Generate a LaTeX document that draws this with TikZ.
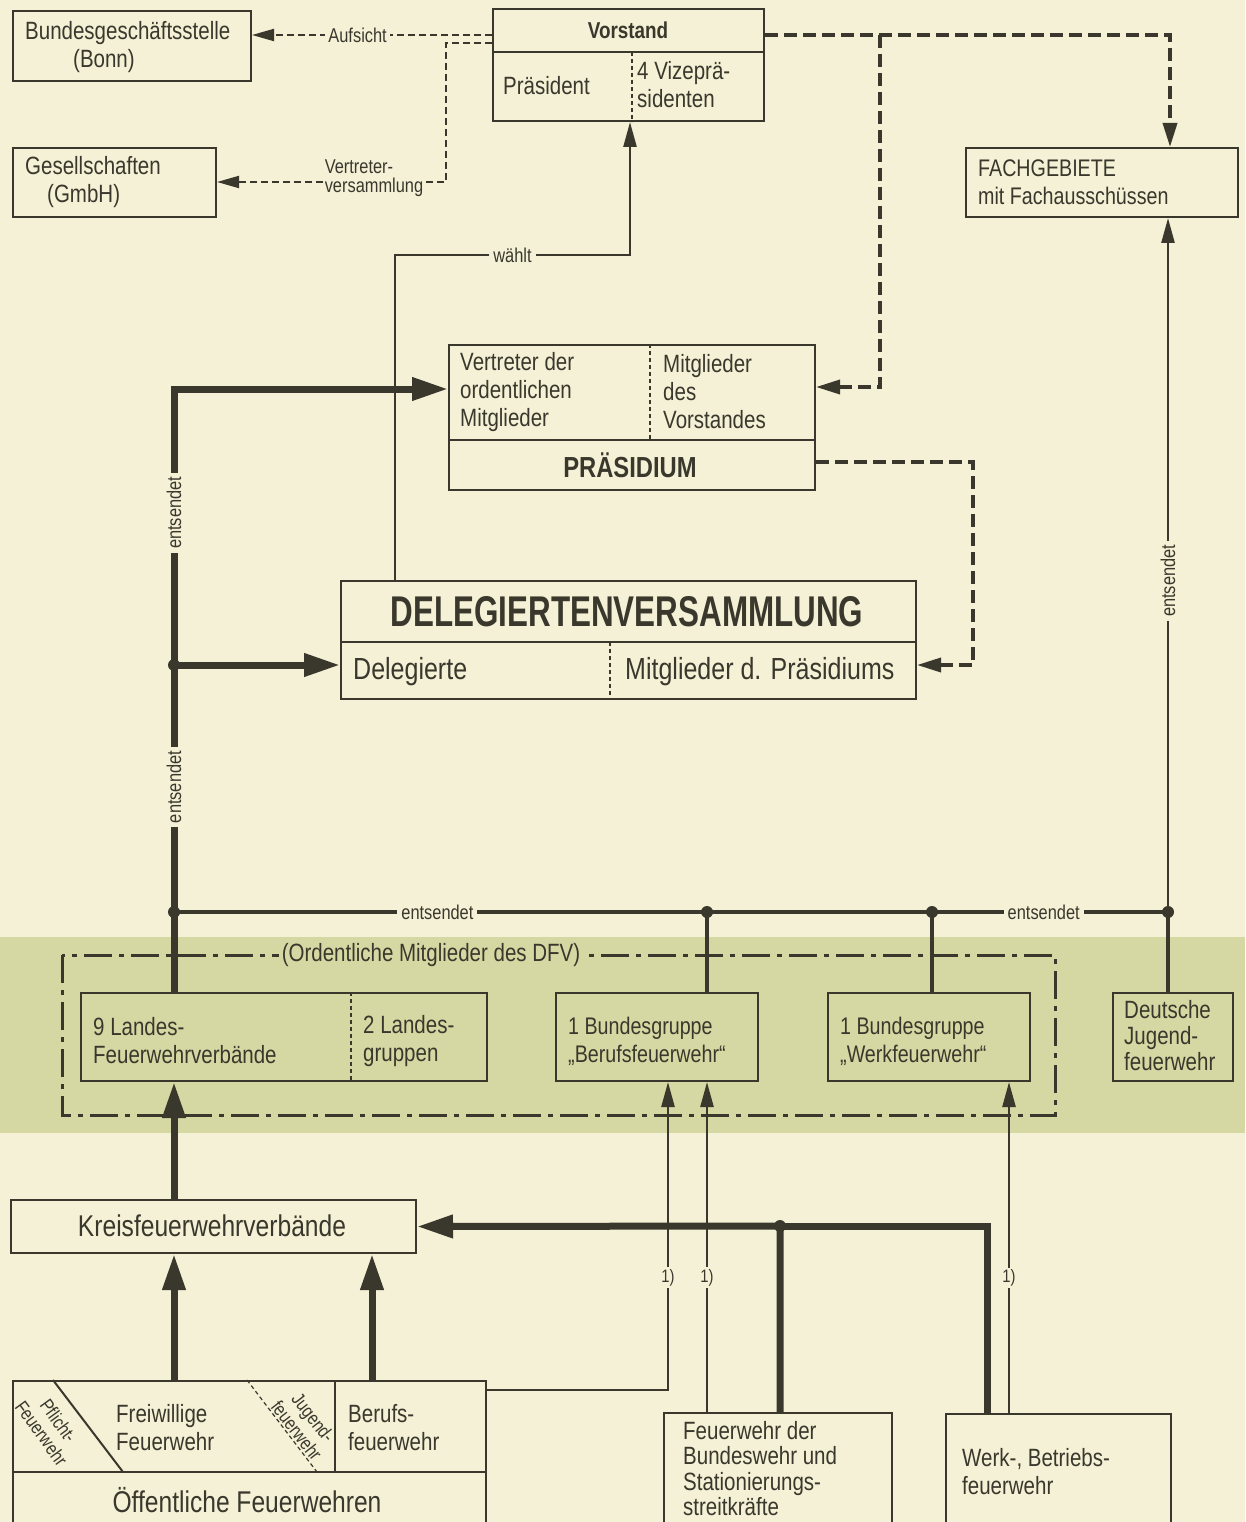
\documentclass[tikz,border=0pt]{standalone}
\usepackage{fontspec}
\setmainfont{Liberation Sans}[FakeStretch=0.82]
\newfontfamily\hdfont{Liberation Sans}[FakeStretch=0.73]
\usetikzlibrary{arrows.meta}
\definecolor{bg}{RGB}{244,241,214}
\definecolor{band}{RGB}{214,216,163}
\definecolor{ink}{RGB}{58,56,44}
\tikzset{
 box/.style={draw=ink, line width=2pt, inner sep=0pt, anchor=north west},
 txt/.style={text=ink, inner sep=0pt, align=left, font=\fontsize{25}{28}\selectfont},
 lbl/.style={text=ink, fill=bg, inner sep=4pt, font=\fontsize{20}{22}\selectfont},
 thk/.style={draw=ink, line width=7pt},
 thkarr/.style={thk, -{Triangle[length=36pt,width=22pt]}},
 med/.style={draw=ink, line width=4pt},
 thn/.style={draw=ink, line width=2.5pt},
 thnarr/.style={thn, -{Triangle[length=25pt,width=13pt]}},
 dsh/.style={draw=ink, line width=2pt, dash pattern=on 7pt off 4pt},
 dsharr/.style={dsh, -{Triangle[length=22pt,width=12pt]}},
 dshB/.style={draw=ink, line width=3.5pt, dash pattern=on 13pt off 6pt},
 dshBarr/.style={dshB, -{Triangle[length=24pt,width=14pt]}},
 divd/.style={draw=ink, line width=1.2pt, dash pattern=on 4pt off 3pt},
 inl/.style={draw=ink, line width=2pt},
 jdot/.style={circle, fill=ink, inner sep=0pt, minimum size=12pt},
}
\begin{document}
\begin{tikzpicture}[x=1pt,y=-1pt]
\fill[bg] (0,0) rectangle (1245,1522);
\fill[band] (0,937) rectangle (1245,1133);
\useasboundingbox (0,0) rectangle (1245,1522);
\clip (0,0) rectangle (1245,1522);

% ---------- boxes ----------
\node[box, minimum width=238pt, minimum height=70pt] (bgs) at (12,10) {};
\node[txt, anchor=west] (bgsT) at (25,47) {Bundesgeschäftsstelle\\\hspace*{48pt}(Bonn)};

\node[box, minimum width=203pt, minimum height=69pt] (ges) at (12,147) {};
\node[txt, anchor=west] (gesT) at (25,182) {Gesellschaften\\\hspace*{22pt}(GmbH)};

\node[box, minimum width=271pt, minimum height=112pt] (vor) at (492,8) {};
\draw[inl] (vor.west |- 0,52) -- (vor.east |- 0,52);
\draw[divd] (632,52) -- (vor.south -| 632,0);
\node[txt, font=\bfseries\fontsize{23}{26}\selectfont] (vorT) at (628,30) {Vorstand};
\node[txt, anchor=west] (praes) at (503,86) {Präsident};
\node[txt, anchor=west] (vize) at (637,85) {4 Vizeprä-\\sidenten};

\node[box, minimum width=272pt, minimum height=69pt] (fach) at (965,147) {};
\node[txt, anchor=west, font=\fontsize{24}{28}\selectfont] (fachT) at (978,182) {FACHGEBIETE\\mit Fachausschüssen};

\node[box, minimum width=366pt, minimum height=145pt] (pra) at (448,344) {};
\draw[inl] (pra.west |- 0,440) -- (pra.east |- 0,440);
\draw[divd] (pra.north -| 650,0) -- (650,440);
\node[txt, anchor=west] (praL) at (460,392) {Vertreter der\\ordentlichen\\Mitglieder};
\node[txt, anchor=west] (praR) at (663,392) {Mitglieder\\des\\Vorstandes};
\node[txt, font=\bfseries\fontsize{29}{32}\selectfont] (praT) at (630,465) {PRÄSIDIUM};

\node[box, minimum width=575pt, minimum height=118pt] (del) at (340,580) {};
\draw[inl] (del.west |- 0,642) -- (del.east |- 0,642);
\draw[divd] (610,642) -- (del.south -| 610,0);
\node[text=ink, inner sep=0pt, font=\hdfont\bfseries\fontsize{43}{46}\selectfont] (delT) at (627,612) {DELEGIERTENVERSAMMLUNG};
\node[txt, anchor=west, font=\fontsize{30.5}{33}\selectfont] (delL) at (353,672) {Delegierte};
\node[txt, anchor=west, font=\fontsize{30.5}{33}\selectfont] (delR) at (625,672) {Mitglieder d. Präsidiums};

% band
\draw[ink, line width=3pt, dash pattern=on 28pt off 7pt on 5pt off 7pt] (62,955) rectangle (1055,1115);
\node[lbl, fill=band, inner sep=3pt, font=\fontsize{25}{28}\selectfont] (ordl) at (431,955) {(Ordentliche Mitglieder des DFV)};

\node[box, minimum width=406pt, minimum height=88pt] (lan) at (80,992) {};
\draw[divd] (lan.north -| 351,0) -- (lan.south -| 351,0);
\node[txt, anchor=west] (lanL) at (93,1041) {9 Landes-\\Feuerwehrverbände};
\node[txt, anchor=west] (lanR) at (363,1041) {2 Landes-\\gruppen};

\node[box, minimum width=202pt, minimum height=88pt] (bbg) at (555,992) {};
\node[txt, anchor=west, font=\fontsize{24}{28}\selectfont] (bbgT) at (568,1041) {1 Bundesgruppe\\„Berufsfeuerwehr“};

\node[box, minimum width=202pt, minimum height=88pt] (wbg) at (827,992) {};
\node[txt, anchor=west, font=\fontsize{24}{28}\selectfont] (wbgT) at (840,1041) {1 Bundesgruppe\\„Werkfeuerwehr“};

\node[box, minimum width=120pt, minimum height=88pt] (djf) at (1112,992) {};
\node[txt, anchor=west, font=\fontsize{25}{26}\selectfont] (djfT) at (1124,1036) {Deutsche\\Jugend-\\feuerwehr};

\node[box, minimum width=405pt, minimum height=53pt] (kre) at (10,1199) {};
\node[txt, font=\fontsize{30}{33}\selectfont] (kreT) at (212,1226) {Kreisfeuerwehrverbände};

\node[box, minimum width=473pt, minimum height=170pt] (oef) at (12,1380) {};
\draw[inl] (oef.west |- 0,1472) -- (oef.east |- 0,1472);
\draw[inl] (oef.north -| 335,0) -- (335,1472);
\draw[inl] (oef.north -| 53,0) -- (123,1472);
\draw[divd] (oef.north -| 247,0) -- (317,1472);
\node[txt, anchor=west] (fwT) at (116,1428) {Freiwillige\\Feuerwehr};
\node[txt, anchor=west] (bfT) at (348,1428) {Berufs-\\feuerwehr};
\node[txt, font=\fontsize{30}{33}\selectfont] (oefT) at (247,1500) {Öffentliche Feuerwehren};
\node[txt, align=center, rotate=-54, font=\fontsize{19}{21}\selectfont] (pfT) at (50,1427) {Pflicht-\\Feuerwehr};
\node[txt, align=center, rotate=-52, font=\fontsize{19}{21}\selectfont] (jfT) at (305,1424) {Jugend-\\feuerwehr};

\node[box, minimum width=228pt, minimum height=140pt] (bw) at (663,1412) {};
\node[txt, anchor=north west, font=\fontsize{25}{25.5}\selectfont] (bwT) at (683,1421) {Feuerwehr der\\Bundeswehr und\\Stationierungs-\\streitkräfte};

\node[box, minimum width=225pt, minimum height=140pt] (wb) at (945,1413) {};
\node[txt, anchor=west] (wbT) at (962,1472) {Werk-, Betriebs-\\feuerwehr};

% ---------- connectors ----------
\draw[dsharr] (vor.west |- 0,35) -- node[lbl, inner sep=3pt, pos=0.56] (lAuf) {Aufsicht} (bgs.east |- 0,35);
\draw[dsharr] (vor.west |- 0,43) -- (446,43) -- (446,182) -- (ges.east |- 0,182);
\node[lbl, align=left, inner sep=2pt, font=\fontsize{20}{19}\selectfont] (lVer) at (374,178) {Vertreter-\\versammlung};

\draw[dshBarr] (vor.east |- 0,35) -- (1170,35) -- (fach.north -| 1170,0);
\draw[dshBarr] (880,35) -- (880,387) -- (pra.east |- 0,387);
\draw[dshBarr] (pra.east |- 0,462) -- (973,462) -- (973,665) -- (del.east |- 0,665);

\draw[thnarr] (del.north -| 395,0) -- (395,255) -- node[lbl] (lWa) {wählt} (630,255) -- (vor.south -| 630,0);

\draw[thkarr] (174,912) -- node[lbl, rotate=90, pos=0.239] (lE1) {entsendet} node[lbl, rotate=90, pos=0.763] (lE2) {entsendet} (174,389) -- (pra.west |- 0,389);
\draw[thkarr] (174,665) -- (del.west |- 0,665);
\draw[thk] (174,912) -- (lan.north -| 174,0);

\draw[med] (174,912) -- node[lbl, pos=0.265] (lE3) {entsendet} node[lbl, pos=0.875] (lE4) {entsendet} (1168,912);
\draw[med] (707,912) -- (bbg.north -| 707,0);
\draw[med] (932,912) -- (wbg.north -| 932,0);
\draw[med] (1168,912) -- (djf.north -| 1168,0);
\draw[thnarr] (1168,912) -- node[lbl, rotate=90, pos=0.477] (lE5) {entsendet} (fach.south -| 1168,0);

\node[jdot] (j1) at (174,665) {};
\node[jdot] (j2) at (174,912) {};
\node[jdot] (j3) at (707,912) {};
\node[jdot] (j4) at (932,912) {};
\node[jdot] (j5) at (1168,912) {};

\draw[thkarr] (kre.north -| 174,0) -- (lan.south -| 174,0);
\draw[thkarr] (oef.north -| 174,0) -- (kre.south -| 174,0);
\draw[thkarr] (oef.north -| 372,0) -- (kre.south -| 372,0);
\draw[thkarr] (bw.north -| 780,0) -- (780,1226) -- (kre.east);
\draw[thk] (wb.north -| 987,0) -- (987,1226) -- (780,1226);
\node[jdot] (j6) at (780,1226) {};

\draw[thnarr] (oef.east |- 0,1390) -- (668,1390) -- node[lbl, inner sep=2pt, font=\fontsize{18}{18}\selectfont, pos=0.365] (f1) {1)} (bbg.south -| 668,0);
\draw[thnarr] (bw.north -| 707,0) -- node[lbl, inner sep=2pt, font=\fontsize{18}{18}\selectfont, pos=0.407] (f2) {1)} (bbg.south -| 707,0);
\draw[thnarr] (wb.north -| 1009,0) -- node[lbl, inner sep=2pt, font=\fontsize{18}{18}\selectfont, pos=0.408] (f3) {1)} (wbg.south -| 1009,0);
\end{tikzpicture}
\end{document}
